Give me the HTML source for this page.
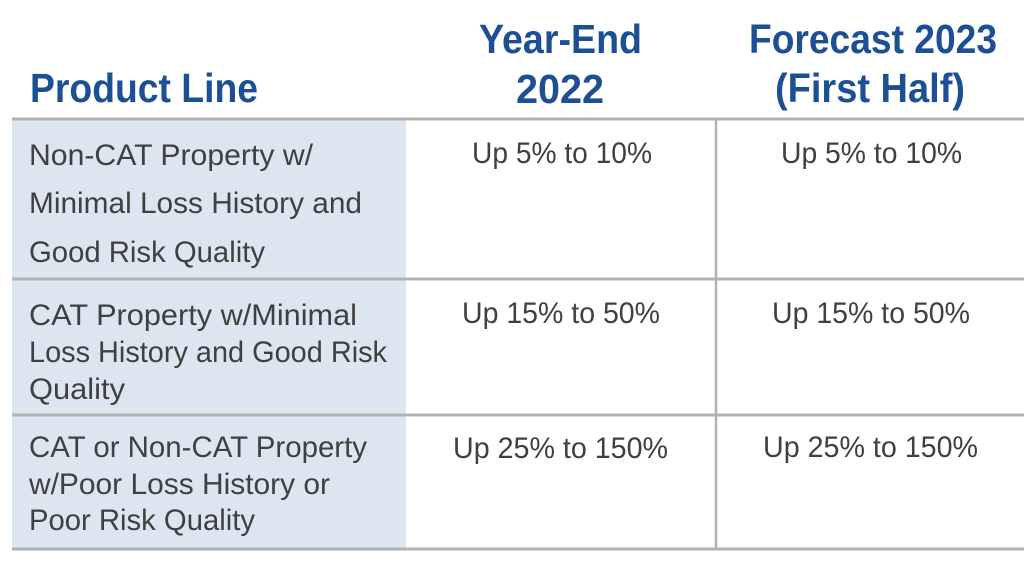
<!DOCTYPE html>
<html>
<head>
<meta charset="utf-8">
<style>
  html, body { margin: 0; padding: 0; background: #ffffff; }
  body { width: 1024px; height: 562px; overflow: hidden; }
  svg { display: block; }
  .h { font-family: "Liberation Sans", sans-serif; font-weight: bold; fill: #1d4f94; font-size: 41px; }
  .b { font-family: "Liberation Sans", sans-serif; fill: #404040; font-size: 30px; }
</style>
</head>
<body>
<svg width="1024" height="562" viewBox="0 0 1024 562" xmlns="http://www.w3.org/2000/svg">
  <rect x="0" y="0" width="1024" height="562" fill="#ffffff"/>
  <!-- blue first column -->
  <rect x="12" y="119" width="394" height="430" fill="#dce6f1"/>

  <!-- horizontal rules -->
  <line x1="12" y1="119" x2="1024" y2="119" stroke="#b2b2b2" stroke-width="3"/>
  <line x1="12" y1="279" x2="1024" y2="279" stroke="#b2b2b2" stroke-width="3"/>
  <line x1="12" y1="415" x2="1024" y2="415" stroke="#b2b2b2" stroke-width="3"/>
  <line x1="12" y1="549" x2="1024" y2="549" stroke="#b2b2b2" stroke-width="3"/>
  <!-- vertical rule -->
  <line x1="716" y1="119" x2="716" y2="549" stroke="#b2b2b2" stroke-width="2.5"/>

  <!-- headers -->
  <text class="h" x="30" y="102" textLength="228" lengthAdjust="spacingAndGlyphs">Product Line</text>
  <text class="h" x="479" y="53" textLength="163" lengthAdjust="spacingAndGlyphs">Year-End</text>
  <text class="h" x="516" y="103" textLength="88" lengthAdjust="spacingAndGlyphs">2022</text>
  <text class="h" x="749" y="53" textLength="248" lengthAdjust="spacingAndGlyphs">Forecast 2023</text>
  <text class="h" x="775" y="102" textLength="190" lengthAdjust="spacingAndGlyphs">(First Half)</text>

  <!-- row 1 -->
  <text class="b" x="29" y="165" textLength="284" lengthAdjust="spacingAndGlyphs">Non-CAT Property w/</text>
  <text class="b" x="29" y="213" textLength="333" lengthAdjust="spacingAndGlyphs">Minimal Loss History and</text>
  <text class="b" x="29" y="262" textLength="236" lengthAdjust="spacingAndGlyphs">Good Risk Quality</text>
  <text class="b" x="472" y="163" textLength="180" lengthAdjust="spacingAndGlyphs">Up 5% to 10%</text>
  <text class="b" x="781" y="163" textLength="181" lengthAdjust="spacingAndGlyphs">Up 5% to 10%</text>

  <!-- row 2 -->
  <text class="b" x="29" y="325" textLength="328" lengthAdjust="spacingAndGlyphs">CAT Property w/Minimal</text>
  <text class="b" x="29" y="362" textLength="358" lengthAdjust="spacingAndGlyphs">Loss History and Good Risk</text>
  <text class="b" x="29" y="399" textLength="96" lengthAdjust="spacingAndGlyphs">Quality</text>
  <text class="b" x="462" y="323" textLength="198" lengthAdjust="spacingAndGlyphs">Up 15% to 50%</text>
  <text class="b" x="772" y="323" textLength="198" lengthAdjust="spacingAndGlyphs">Up 15% to 50%</text>

  <!-- row 3 -->
  <text class="b" x="29" y="457" textLength="338" lengthAdjust="spacingAndGlyphs">CAT or Non-CAT Property</text>
  <text class="b" x="29" y="494" textLength="301" lengthAdjust="spacingAndGlyphs">w/Poor Loss History or</text>
  <text class="b" x="29" y="530" textLength="226" lengthAdjust="spacingAndGlyphs">Poor Risk Quality</text>
  <text class="b" x="453" y="458" textLength="215" lengthAdjust="spacingAndGlyphs">Up 25% to 150%</text>
  <text class="b" x="763" y="457" textLength="215" lengthAdjust="spacingAndGlyphs">Up 25% to 150%</text>
</svg>
</body>
</html>
